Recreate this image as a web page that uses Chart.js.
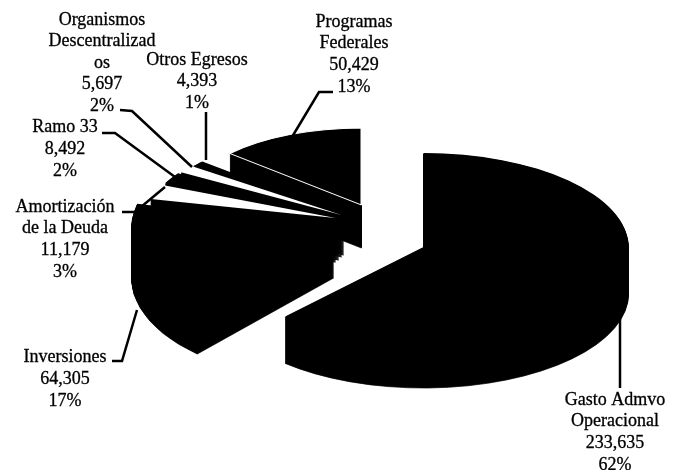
<!DOCTYPE html>
<html>
<head>
<meta charset="utf-8">
<title>Egresos</title>
<script src="https://cdn.jsdelivr.net/npm/chart.js@4"></script>
<style>
  html, body { margin: 0; padding: 0; background: #fff; }
  canvas { display: block; }
</style>
</head>
<body>
<canvas id="chart" width="681" height="470"></canvas>
<script>
const categories = [
  ["Gasto Admvo", "Operacional"],
  ["Inversiones"],
  ["Amortización", "de la Deuda"],
  ["Ramo 33"],
  ["Organismos", "Descentralizad", "os"],
  ["Otros Egresos"],
  ["Programas", "Federales"]
]
const values = [233635, 64305, 11179, 8492, 5697, 4393, 50429]
const fills = ["#000", "#000", "#fff", "#000", "#fff", "#000", "#000"]
const edgeWidths = [0, 0, 0, 0, 0, 0, 2]

// exploded 3d look, one entry per slice: shift from the pie centre, radii, wall height
const shiftX = [73, -17, -15, -12, -9, -7, 11]
const shiftY = [27, 8, -2, -4, -5, -5, -15]
const radiusX = [205, 202, 190, 190, 190, 190, 177]
const radiusY = [94, 103, 80, 80, 80, 80, 77]
const wallHeight = [47, 50, 44, 44, 42, 40, 43]

// where the text goes: centre x and first line y, then the leader line
const labelX = [615, 65, 65, 65, 102, 197, 354]
const labelY = [400, 357, 207, 127, 20, 60, 22]
const lineHeight = [21.7, 22, 21.7, 22, 21.5, 21.5, 21.7]
const leaders = [
  [[620, 318], [620, 388]],
  [[112, 361], [122, 361], [137, 310]],
  [[122, 212], [135, 212], [165, 187]],
  [[102, 133], [115, 133], [175, 177]],
  [[120, 110], [132, 111], [192, 167]],
  [[206, 112], [206, 160]],
  [[333, 92], [319, 92], [292, 137]]
]

const total = values.reduce((a, b) => a + b, 0)

const pie3d = {
  id: "pie3d",
  beforeDatasetsDraw(chart) {
    const ctx = chart.ctx
    const arcs = chart.getDatasetMeta(0).data
    // back to front: last slice first, big slice on top
    for (let i = arcs.length - 1; i >= 0; i--) {
      const arc = arcs[i]
      const scaleY = radiusY[i] / radiusX[i]
      const place = (drop) => {
        ctx.translate(arc.x + shiftX[i], arc.y + shiftY[i] + drop)
        ctx.scale(1, scaleY)
        ctx.translate(-arc.x, -arc.y)
      }
      // black border on the wall layers keeps the thin wedge tips solid
      const wall = Object.create(arc, {
        outerRadius: { value: radiusX[i] },
        options: { value: { ...arc.options, backgroundColor: "#000", borderColor: "#000", borderWidth: 1 } }
      })
      for (let d = wallHeight[i]; d > 0; d--) {
        ctx.save()
        place(d)
        wall.draw(ctx)
        ctx.restore()
      }
      const top = Object.create(arc, {
        outerRadius: { value: radiusX[i] },
        options: { value: arc.options }
      })
      ctx.save()
      place(0)
      top.draw(ctx)
      ctx.restore()
    }
    return false
  },
  afterDraw(chart) {
    const ctx = chart.ctx
    ctx.save()
    ctx.strokeStyle = "#000"
    ctx.lineWidth = 2.5
    leaders.forEach(pts => {
      ctx.beginPath()
      pts.forEach((p, j) => j ? ctx.lineTo(p[0], p[1]) : ctx.moveTo(p[0], p[1]))
      ctx.stroke()
    })
    ctx.fillStyle = "#000"
    ctx.lineWidth = 0.3
    ctx.font = "18px 'Liberation Serif'"
    ctx.textAlign = "center"
    ctx.textBaseline = "middle"
    categories.forEach((name, i) => {
      const lines = [...name, values[i].toLocaleString("en-US"), Math.round(values[i] / total * 100) + "%"]
      lines.forEach((t, j) => {
        ctx.fillText(t, labelX[i], labelY[i] + j * lineHeight[i])
        ctx.strokeText(t, labelX[i], labelY[i] + j * lineHeight[i])
      })
    })
    ctx.restore()
  }
}

new Chart(document.getElementById("chart").getContext("2d"), {
  type: "pie",
  data: {
    labels: categories.map(c => c.join(" ")),
    datasets: [{
      data: values,
      backgroundColor: fills,
      borderColor: "#fff",
      borderWidth: edgeWidths,
      radius: 200
    }]
  },
  options: {
    responsive: false,
    animation: false,
    layout: { padding: { bottom: 30, left: 20 } },
    plugins: { legend: { display: false }, tooltip: { enabled: false } }
  },
  plugins: [pie3d]
})
</script>
</body>
</html>
